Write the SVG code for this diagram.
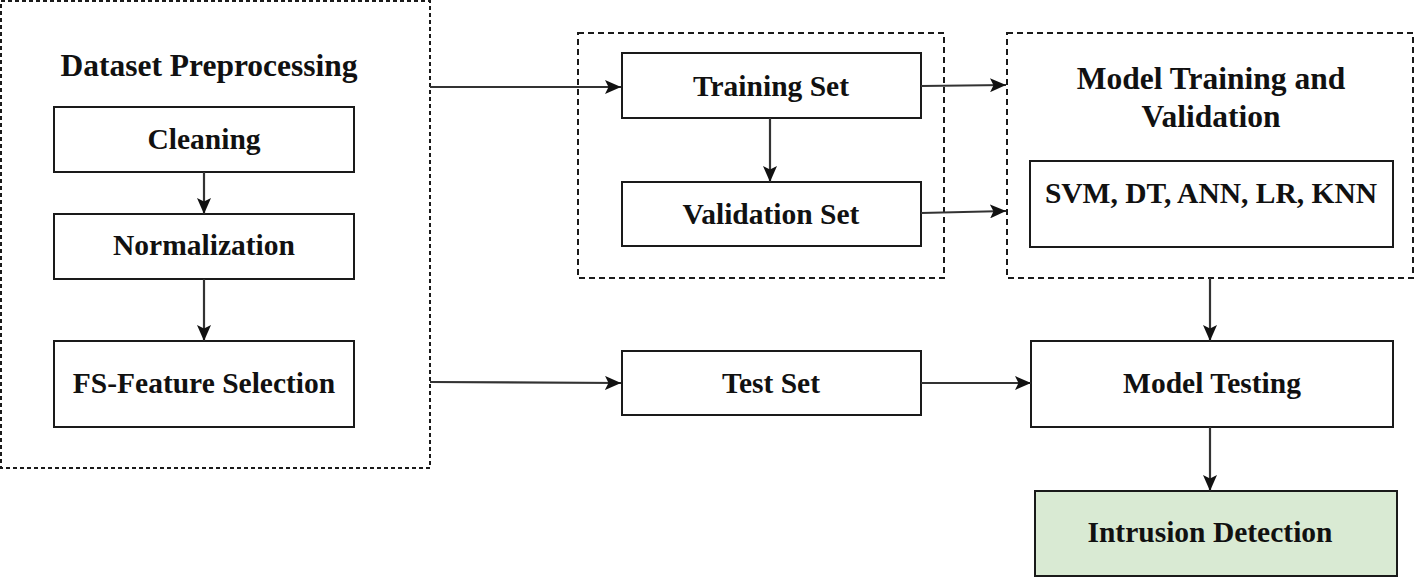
<svg xmlns="http://www.w3.org/2000/svg" width="1415" height="578" viewBox="0 0 1415 578">
<style>
  .grp { fill: none; stroke: #1a1a1a; stroke-width: 2; stroke-dasharray: 6 4; }
  .grp1 { fill: none; stroke: #1a1a1a; stroke-width: 2; stroke-dasharray: 4 3; }
  .box { fill: #ffffff; stroke: #1a1a1a; stroke-width: 2; }
  .green { fill: #d9ead3; stroke: #1a1a1a; stroke-width: 2; }
  .t { font-family: "Liberation Serif", "Times New Roman", serif; font-weight: bold; font-size: 29.5px; fill: #111; text-anchor: middle; }
  .title { font-size: 31.5px; }
  .conn { fill: none; stroke: #333; stroke-width: 2.2; marker-end: url(#arr); }
</style>
<defs>
  <marker id="arr" viewBox="0 0 16 14" refX="16" refY="7" markerWidth="16" markerHeight="14" markerUnits="userSpaceOnUse" orient="auto">
    <path d="M0,0 L16,7 L0,14 L3.5,7 Z" fill="#111"/>
  </marker>
</defs>
<rect width="1415" height="578" fill="#ffffff"/>

<g id="preprocessing">
  <rect class="grp1" x="1" y="1" width="429" height="467"/>
  <text class="t title" x="209" y="76">Dataset Preprocessing</text>
</g>
<g id="cleaning">
  <rect class="box" x="54" y="107" width="300" height="65"/>
  <text class="t" x="204" y="149">Cleaning</text>
</g>
<g id="normalization">
  <rect class="box" x="54" y="214" width="300" height="65"/>
  <text class="t" x="204" y="255">Normalization</text>
</g>
<g id="feature-selection">
  <rect class="box" x="54" y="341" width="300" height="86"/>
  <text class="t" x="204" y="393">FS-Feature Selection</text>
</g>

<g id="split-group">
  <rect class="grp" x="578" y="33" width="366" height="245"/>
</g>
<g id="training-set">
  <rect class="box" x="622" y="53" width="299" height="65"/>
  <text class="t" x="771" y="96">Training Set</text>
</g>
<g id="validation-set">
  <rect class="box" x="622" y="182" width="299" height="64"/>
  <text class="t" x="771" y="224">Validation Set</text>
</g>
<g id="test-set">
  <rect class="box" x="622" y="351" width="299" height="64"/>
  <text class="t" x="771" y="393">Test Set</text>
</g>

<g id="model-training">
  <rect class="grp" x="1007" y="33" width="406" height="245"/>
  <text class="t title" x="1211" y="89">Model Training and</text>
  <text class="t title" x="1211" y="127">Validation</text>
</g>
<g id="algorithms">
  <rect class="box" x="1030" y="161" width="363" height="86"/>
  <text class="t" x="1211" y="203">SVM, DT, ANN, LR, KNN</text>
</g>
<g id="model-testing">
  <rect class="box" x="1031" y="341" width="362" height="86"/>
  <text class="t" x="1212" y="393">Model Testing</text>
</g>
<g id="intrusion-detection">
  <rect class="green" x="1035" y="491" width="362" height="85"/>
  <text class="t" x="1210" y="542">Intrusion Detection</text>
</g>

<g id="connectors">
  <line class="conn" x1="204" y1="172" x2="204" y2="214"/>
  <line class="conn" x1="204" y1="279" x2="204" y2="341"/>
  <line class="conn" x1="430" y1="87" x2="621" y2="87"/>
  <line class="conn" x1="430" y1="382" x2="621" y2="383"/>
  <line class="conn" x1="770" y1="118" x2="770" y2="182"/>
  <line class="conn" x1="921" y1="86" x2="1006" y2="85"/>
  <line class="conn" x1="921" y1="213" x2="1006" y2="211"/>
  <line class="conn" x1="921" y1="383" x2="1031" y2="383"/>
  <line class="conn" x1="1210" y1="278" x2="1210" y2="341"/>
  <line class="conn" x1="1210" y1="427" x2="1210" y2="491"/>
</g>
</svg>
